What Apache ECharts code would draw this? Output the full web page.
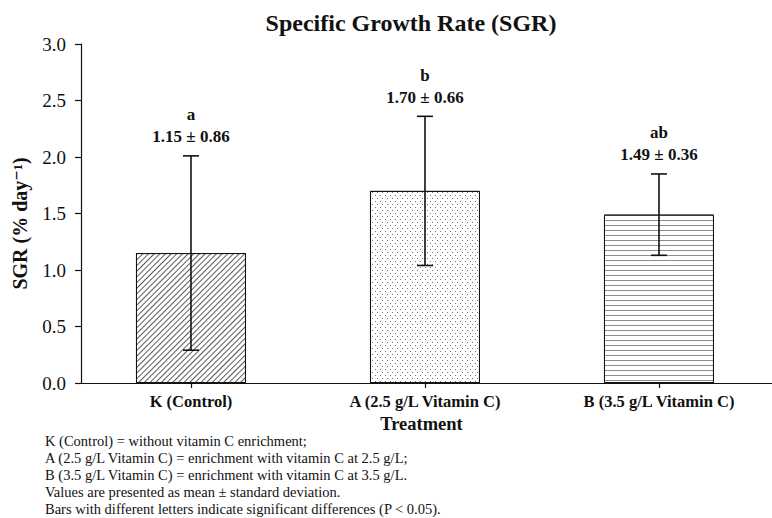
<!DOCTYPE html>
<html>
<head>
<meta charset="utf-8">
<script src="https://cdn.jsdelivr.net/npm/echarts@6/dist/echarts.min.js"></script>
<style>
  html, body { margin: 0; padding: 0; background: #fff; }
  #chart { width: 772px; height: 518px; }
</style>
</head>
<body>
<div id="chart"></div>
<script>
// Treatments, group means and standard deviations of the specific growth rate
const categories = ['K (Control)', 'A (2.5 g/L Vitamin C)', 'B (3.5 g/L Vitamin C)'];
const means = [1.15, 1.70, 1.49];
const sds = [0.86, 0.66, 0.36];
const groupLetters = ['a', 'b', 'ab'];
const yTicks = [0.0, 0.5, 1.0, 1.5, 2.0, 2.5, 3.0];
const footnotes = [
  'K (Control) = without vitamin C enrichment;',
  'A (2.5 g/L Vitamin C) = enrichment with vitamin C at 2.5 g/L;',
  'B (3.5 g/L Vitamin C) = enrichment with vitamin C at 3.5 g/L.',
  'Values are presented as mean \u00b1 standard deviation.',
  'Bars with different letters indicate significant differences (P < 0.05).'
];

const SERIF = '"Liberation Serif", "Times New Roman", "DejaVu Serif", serif';
const INK = '#111';

// fill patterns for the three bars: hatching, stipple, horizontal rules
const decals = [
  { symbol: 'rect', symbolSize: 1, color: '#5a5a5a', backgroundColor: 'rgba(0,0,0,0)',
    dashArrayX: [1, 0], dashArrayY: [1, 2.6], rotation: -Math.PI / 4 },
  { symbol: 'rect', symbolSize: 1, color: '#777', backgroundColor: 'rgba(0,0,0,0)',
    dashArrayX: [[1, 4], [0, 2, 1, 2]], dashArrayY: [1, 2], rotation: 0 },
  { symbol: 'rect', symbolSize: 1, color: '#8c8c8c', backgroundColor: 'rgba(0,0,0,0)',
    dashArrayX: [1, 0], dashArrayY: [1, 4], rotation: 0 }
];

const positions = categories.map((_, i) => i);
const barData = positions.map((x, i) => ({
  value: [x, means[i]],
  itemStyle: { color: '#fff', borderColor: INK, borderWidth: 1, decal: decals[i] }
}));
const errData = positions.map((x, i) => [x, means[i], sds[i]]);

const chart = echarts.init(document.getElementById('chart'), null, { renderer: 'svg' });

chart.setOption({
  animation: false,
  backgroundColor: '#fff',
  grid: { left: 81, right: 0, top: 44, bottom: 135, outerBoundsMode: 'none' },
  xAxis: {
    type: 'value',
    min: -0.47,
    max: 2.483,
    name: 'Treatment',
    nameLocation: 'middle',
    nameGap: 31,
    nameTextStyle: { fontFamily: SERIF, fontWeight: 'bold', fontSize: 18.5, color: INK, padding: [0, 10, 0, 0] },
    axisLine: { show: true, onZero: false, lineStyle: { color: INK, width: 1.2 } },
    axisTick: { show: true, inside: false, length: 5, customValues: positions, lineStyle: { color: INK, width: 1.2 } },
    axisLabel: {
      customValues: positions,
      margin: 10,
      fontFamily: SERIF, fontWeight: 'bold', fontSize: 16.5, color: INK,
      formatter: v => categories[Math.round(v)]
    },
    splitLine: { show: false }
  },
  yAxis: {
    type: 'value',
    min: 0,
    max: 3,
    interval: 0.5,
    name: 'SGR (% day\u207b\u00b9)',
    nameLocation: 'middle',
    nameGap: 51,
    nameTextStyle: { fontFamily: SERIF, fontWeight: 'bold', fontSize: 20, color: INK, padding: [0, 20, 0, 0] },
    axisLine: { show: true, onZero: false, lineStyle: { color: INK, width: 1.2 } },
    axisTick: { show: true, inside: false, length: 6, lineStyle: { color: INK, width: 1.2 } },
    axisLabel: {
      margin: 15,
      fontFamily: SERIF, fontSize: 19, color: INK,
      formatter: v => {
        const t = yTicks.find(k => Math.abs(k - v) < 1e-9);
        return (t !== undefined ? t : v).toFixed(1);
      }
    },
    splitLine: { show: false }
  },
  graphic: [
    {
      type: 'text', x: 411, y: 23,
      style: { text: 'Specific Growth Rate (SGR)', font: 'bold 24px ' + SERIF, fill: INK, align: 'center', verticalAlign: 'middle' }
    },
    {
      type: 'text', x: 45, y: 432,
      style: { text: footnotes.join('\n'), font: '14.5px ' + SERIF, fill: INK, lineHeight: 17, align: 'left', verticalAlign: 'top' }
    }
  ],
  series: [
    {
      type: 'bar',
      data: barData,
      barWidth: 110,
      z: 2
    },
    {
      type: 'custom',
      data: errData,
      encode: { x: 0, y: 1 },
      clip: false,
      z: 3,
      renderItem: (params, api) => {
        const x = api.value(0);
        const m = api.value(1);
        const s = api.value(2);
        const top = api.coord([x, m + s]);
        const bot = api.coord([x, m - s]);
        const cap = 8;
        const line = { stroke: INK, lineWidth: 1.6 };
        const i = params.dataIndex;
        return {
          type: 'group',
          children: [
            { type: 'line', shape: { x1: top[0], y1: top[1], x2: bot[0], y2: bot[1] }, style: line },
            { type: 'line', shape: { x1: top[0] - cap, y1: top[1], x2: top[0] + cap, y2: top[1] }, style: line },
            { type: 'line', shape: { x1: bot[0] - cap, y1: bot[1], x2: bot[0] + cap, y2: bot[1] }, style: line },
            { type: 'text', x: top[0], y: top[1] - 19,
              style: { text: means[i].toFixed(2) + ' \u00b1 ' + sds[i].toFixed(2), font: 'bold 17px ' + SERIF, fill: INK, align: 'center', verticalAlign: 'middle' } },
            { type: 'text', x: top[0], y: top[1] - 41,
              style: { text: groupLetters[i], font: 'bold 17px ' + SERIF, fill: INK, align: 'center', verticalAlign: 'middle' } }
          ]
        };
      }
    }
  ]
});
</script>
</body>
</html>
